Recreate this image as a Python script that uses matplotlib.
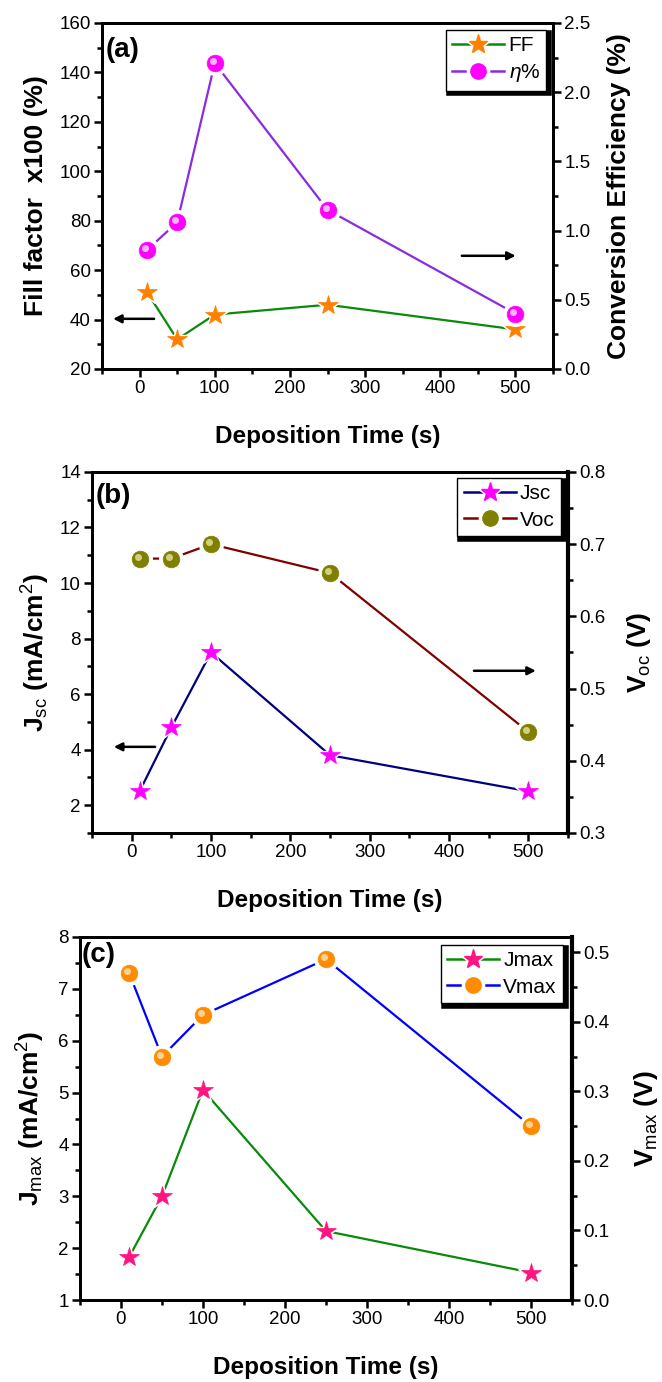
import matplotlib
matplotlib.use("Agg")
import matplotlib.pyplot as plt
from matplotlib.ticker import MultipleLocator
from matplotlib.lines import Line2D
from matplotlib.legend_handler import HandlerTuple
from matplotlib.transforms import offset_copy

plt.rcParams['font.family'] = ['Liberation Sans', 'DejaVu Sans']
plt.rcParams['mathtext.fontset'] = 'custom'
plt.rcParams['mathtext.rm'] = 'Liberation Sans'
plt.rcParams['mathtext.it'] = 'Liberation Sans:italic'
plt.rcParams['mathtext.bf'] = 'Liberation Sans:bold'

# deposition times and measured cell parameters
time_s = [10, 50, 100, 250, 500]
fill_factor = [51, 32, 42, 46, 36]
efficiency = [0.86, 1.06, 2.21, 1.15, 0.40]
jsc = [2.5, 4.8, 7.5, 3.8, 2.5]
voc = [0.68, 0.68, 0.70, 0.66, 0.44]
jmax = [1.83, 3.0, 5.05, 2.33, 1.53]
vmax = [0.47, 0.35, 0.41, 0.49, 0.25]

fig = plt.figure(figsize=(6.62, 13.82), dpi=100)

TICK_FS = 13.5
LEGEND_FS = 15
XLABEL_FS = 17.5
YLABEL_FS = 19


def style(ax, twin, ylim_l, ymaj_l, ymin_l, ylim_r, ymaj_r, ymin_r):
    ax.set_xlim(-50, 550)
    ax.xaxis.set_major_locator(MultipleLocator(100))
    ax.xaxis.set_minor_locator(MultipleLocator(50))
    ax.set_ylim(*ylim_l)
    ax.yaxis.set_major_locator(MultipleLocator(ymaj_l))
    ax.yaxis.set_minor_locator(MultipleLocator(ymin_l))
    twin.set_ylim(*ylim_r)
    twin.yaxis.set_major_locator(MultipleLocator(ymaj_r))
    twin.yaxis.set_minor_locator(MultipleLocator(ymin_r))
    for a in (ax, twin):
        for s in a.spines.values():
            s.set_linewidth(2)
        a.tick_params(which='major', direction='out', length=6, width=1.8,
                      labelsize=TICK_FS, pad=2)
        a.tick_params(which='minor', direction='out', length=3.5, width=1.8)
    twin.yaxis.set_major_formatter(plt.FormatStrFormatter('%.1f'))


def series(ax, y, line_c, marker, face, ms, sphere=False, hl=None):
    ax.plot(time_s, y, '-', color=line_c, lw=1.6, zorder=2)
    # white halo leaves a small gap between line and marker
    ax.plot(time_s, y, ls='none', marker=marker, ms=ms + 5, mfc='white',
            mec='white', zorder=3)
    ax.plot(time_s, y, ls='none', marker=marker, ms=ms, mfc=face,
            mec=face, mew=0.5, zorder=4)
    if sphere:
        tr = offset_copy(ax.transData, fig=fig, x=-2, y=2, units='dots')
        ax.plot(time_s, y, ls='none', marker='o', ms=ms * 0.42, mfc=hl,
                mec='none', alpha=0.9, zorder=5, transform=tr)
    lms = ms - 1
    h_line = Line2D([], [], color=line_c, lw=1.8)
    h_white = Line2D([], [], ls='none', marker=marker, ms=lms + 5, mfc='white', mec='white')
    h_mark = Line2D([], [], ls='none', marker=marker, ms=lms, mfc=face, mec=face)
    return (h_line, h_white, h_mark)


def legend(twin, handles, labels, anchor):
    leg = twin.legend(handles, labels, loc='upper right', bbox_to_anchor=anchor,
                      borderaxespad=0, fancybox=False, framealpha=1,
                      edgecolor='black', fontsize=LEGEND_FS, handlelength=2.5,
                      handletextpad=0.2, labelspacing=0.35, borderpad=0.3,
                      shadow={'color': 'black', 'alpha': 1, 'linewidth': 4},
                      handler_map={tuple: HandlerTuple(ndivide=1)})
    leg.get_frame().set_linewidth(1.0)
    return leg


def arrow(ax, x0, x1, y):
    ax.annotate('', xy=(x1, y), xytext=(x0, y),
                arrowprops=dict(arrowstyle='-|>', color='black', lw=1.8,
                                mutation_scale=12), zorder=6)


# (a) fill factor and conversion efficiency
ax1 = fig.add_axes([0.1541, 0.7330, 0.6813, 0.2504])
tw1 = ax1.twinx()
style(ax1, tw1, (20, 160), 20, 10, (0, 2.5), 0.5, 0.25)
h_ff = series(ax1, fill_factor, '#0A8A0A', '*', '#FF8000', 15)
h_eta = series(tw1, efficiency, '#8A2BE2', 'o', '#FF00FF', 12, sphere=True, hl='#FFC8FF')
legend(tw1, [h_ff, h_eta], ['FF', r'$\eta$%'], (0.985, 0.98))
arrow(ax1, 23, -39, 40.3)
arrow(ax1, 425, 504, 65.8)
ax1.text(0.008, 0.96, '(a)', transform=ax1.transAxes, fontsize=20,
         fontweight='bold', va='top', ha='left')
ax1.set_xlabel('Deposition Time (s)', fontsize=XLABEL_FS, fontweight='bold', labelpad=20)
ax1.set_ylabel('Fill factor  x100 (%)', fontsize=YLABEL_FS, fontweight='bold', labelpad=8)
tw1.set_ylabel('Conversion Efficiency (%)', fontsize=YLABEL_FS, fontweight='bold', labelpad=12)

# (b) short-circuit current density and open-circuit voltage
ax2 = fig.add_axes([0.1390, 0.3973, 0.7190, 0.2612])
tw2 = ax2.twinx()
style(ax2, tw2, (1, 14), 2, 1, (0.3, 0.8), 0.1, 0.05)
tw2.spines['right'].set_linewidth(3)
h_jsc = series(ax2, jsc, '#000080', '*', '#FF00FF', 15)
h_voc = series(tw2, voc, '#800000', 'o', '#808000', 12, sphere=True, hl='#D8D890')
legend(tw2, [h_jsc, h_voc], ['Jsc', 'Voc'], (0.985, 0.983))
arrow(ax2, 33, -26, 4.1)
arrow(ax2, 428, 513, 6.84)
ax2.text(0.008, 0.97, '(b)', transform=ax2.transAxes, fontsize=20,
         fontweight='bold', va='top', ha='left')
ax2.set_xlabel('Deposition Time (s)', fontsize=XLABEL_FS, fontweight='bold', labelpad=20)
ax2.set_ylabel(r'J$_{\mathrm{sc}}$ (mA/cm$^{\mathrm{2}}$)', fontsize=YLABEL_FS,
               fontweight='bold', labelpad=6)
tw2.set_ylabel(r'V$_{\mathrm{oc}}$ (V)', fontsize=YLABEL_FS, fontweight='bold', labelpad=14)

# (c) current density and voltage at maximum power
ax3 = fig.add_axes([0.1208, 0.0593, 0.7432, 0.2627])
tw3 = ax3.twinx()
style(ax3, tw3, (1, 8), 1, 0.5, (0, 0.522), 0.1, 0.05)
tw3.spines['right'].set_linewidth(3)
h_jm = series(ax3, jmax, '#0A8A0A', '*', '#FF1480', 15)
h_vm = series(tw3, vmax, '#0000FF', 'o', '#FF8C00', 12, sphere=True, hl='#FFD8A8')
legend(tw3, [h_jm, h_vm], ['Jmax', 'Vmax'], (0.982, 0.978))
ax3.text(0.003, 0.985, '(c)', transform=ax3.transAxes, fontsize=20,
         fontweight='bold', va='top', ha='left')
ax3.set_xlabel('Deposition Time (s)', fontsize=XLABEL_FS, fontweight='bold', labelpad=20)
ax3.set_ylabel(r'J$_{\mathrm{max}}$ (mA/cm$^{\mathrm{2}}$)', fontsize=YLABEL_FS,
               fontweight='bold', labelpad=8)
tw3.set_ylabel(r'V$_{\mathrm{max}}$ (V)', fontsize=YLABEL_FS, fontweight='bold', labelpad=16)

fig.savefig('out.png', dpi=100)
